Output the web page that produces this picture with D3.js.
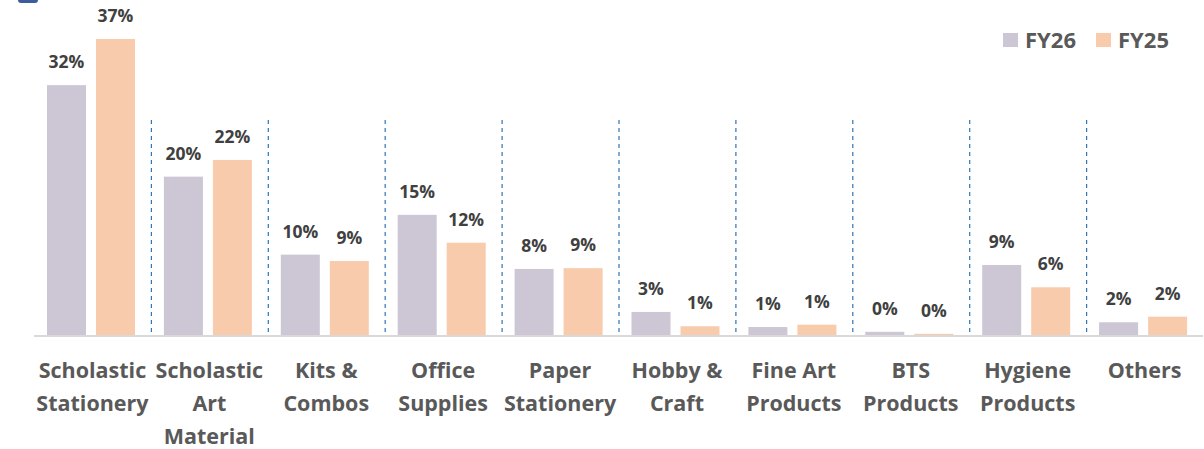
<!DOCTYPE html>
<html>
<head>
<meta charset="utf-8">
<script src="https://cdn.jsdelivr.net/npm/d3@7"></script>
<style>
  body { margin: 0; background: #fff; }
  text { font-family: "Open Sans", sans-serif; font-weight: bold; }
</style>
</head>
<body>
<div class="chart"></div>
<script>
const categories = [
  ["Scholastic", "Stationery"],
  ["Scholastic", "Art", "Material"],
  ["Kits &", "Combos"],
  ["Office", "Supplies"],
  ["Paper", "Stationery"],
  ["Hobby &", "Craft"],
  ["Fine Art", "Products"],
  ["BTS", "Products"],
  ["Hygiene", "Products"],
  ["Others"]
];
const seriesNames = ["FY26", "FY25"];
const fy26 = [31.4, 19.9, 10.1, 15.1, 8.3, 2.9, 1.0, 0.4, 8.8, 1.6];
const fy25 = [37.2, 22.0, 9.3, 11.6, 8.4, 1.1, 1.3, 0.15, 6.0, 2.3];
const fy26Labels = ["32%", "20%", "10%", "15%", "8%", "3%", "1%", "0%", "9%", "2%"];
const fy25Labels = ["37%", "22%", "9%", "12%", "9%", "1%", "1%", "0%", "6%", "2%"];
const colors = ["#cdc6d5", "#f8cbad"];

const svgWidth = 1204, svgHeight = 449;
const margin = { left: 34, right: 1, top: 0, baseline: 335 };

const svg = d3.select(".chart").append("svg")
  .attr("width", svgWidth)
  .attr("height", svgHeight);

// logo fragment in the corner
svg.append("rect")
  .attr("x", 18).attr("y", -6).attr("width", 20).attr("height", 9)
  .attr("rx", 3).attr("fill", "#3d5c9b");

const x = d3.scaleBand()
  .domain(d3.range(categories.length))
  .range([margin.left, svgWidth - margin.right]);

const y = d3.scaleLinear()
  .domain([0, 37.2])
  .range([margin.baseline, 39]);

const barW = 39, gap = 10, pad = 13;

const rows = categories.map((c, i) => ({
  i: i,
  vals: [fy26[i], fy25[i]],
  labels: [fy26Labels[i], fy25Labels[i]]
}));

// dashed separators
svg.selectAll(".sep")
  .data(d3.range(1, categories.length))
  .enter().append("line")
    .attr("x1", d => x(d) + 0.5)
    .attr("x2", d => x(d) + 0.5)
    .attr("y1", 120)
    .attr("y2", margin.baseline)
    .attr("stroke", "#2e75b6")
    .attr("stroke-width", 1.2)
    .attr("stroke-dasharray", "4,4");

rows.forEach(function(r) {
  r.vals.forEach(function(v, s) {
    let bx = x(r.i) + pad + s * (barW + gap);
    svg.append("rect")
      .attr("x", bx)
      .attr("y", y(v))
      .attr("width", barW)
      .attr("height", margin.baseline - y(v))
      .attr("fill", colors[s]);
    svg.append("text")
      .attr("x", bx + barW / 2)
      .attr("y", y(v) - 17)
      .attr("text-anchor", "middle")
      .attr("font-size", "17.5px")
      .attr("fill", "#404040")
      .text(r.labels[s]);
  });
});

// axis line
svg.append("line")
  .attr("x1", margin.left).attr("x2", svgWidth - margin.right)
  .attr("y1", margin.baseline + 1).attr("y2", margin.baseline + 1)
  .attr("stroke", "#d9d9d9").attr("stroke-width", 2);

// category labels
categories.forEach(function(lines, i) {
  let t = svg.append("text")
    .attr("text-anchor", "middle")
    .attr("font-size", "21.5px")
    .attr("fill", "#595959");
  lines.forEach(function(line, k) {
    t.append("tspan")
      .attr("x", x(i) + x.bandwidth() / 2)
      .attr("y", 378 + k * 33)
      .text(line);
  });
});

// legend
const legend = svg.selectAll(".legend")
  .data(seriesNames)
  .enter().append("g")
    .attr("transform", (d, i) => `translate(${1003 + i * 93}, 33)`);
legend.append("rect")
  .attr("width", 15).attr("height", 14)
  .attr("fill", (d, i) => colors[i]);
legend.append("text")
  .attr("x", 22).attr("y", 15)
  .attr("font-size", "22px")
  .attr("fill", "#595959")
  .text(d => d);
</script>
</body>
</html>
